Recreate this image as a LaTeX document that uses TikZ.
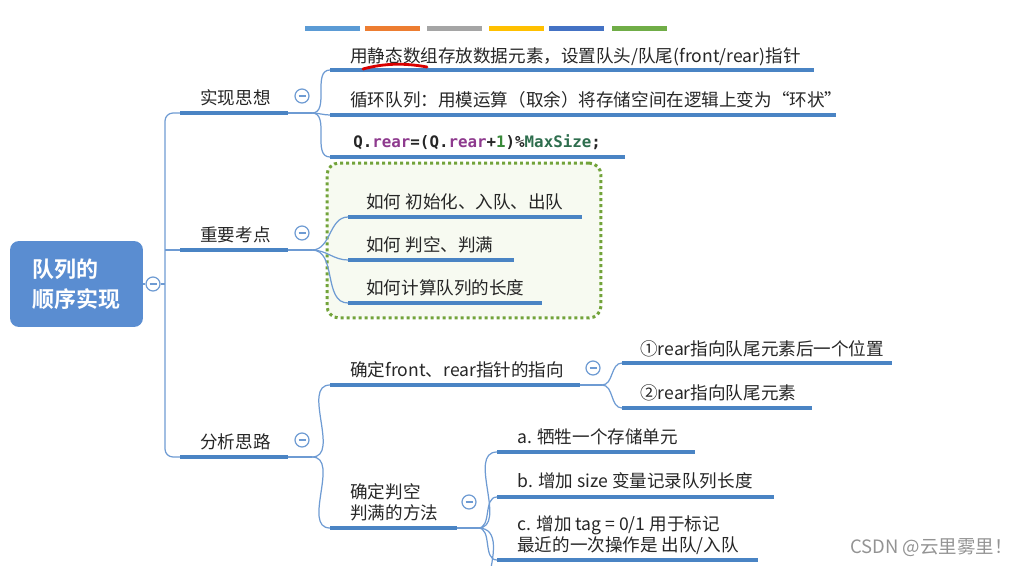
\documentclass[tikz,border=0pt]{standalone}
\usepackage{fontspec}
\setmainfont{Noto Sans CJK SC}[BoldFont={* Bold}]
\newfontfamily\codefont{DejaVu Sans Mono}
\usetikzlibrary{positioning}
\definecolor{ulblue}{HTML}{4A84C4}
\definecolor{lnblue}{HTML}{6E9BD3}
\definecolor{rootblue}{HTML}{5A8DD1}
\definecolor{boxgreen}{HTML}{72A33A}
\definecolor{boxfill}{HTML}{F7FAF1}
\definecolor{txt}{HTML}{262626}
\definecolor{codepurple}{HTML}{8E3A8E}
\definecolor{codegreen}{HTML}{2E6E4E}
\definecolor{codenum}{HTML}{3A8A3A}
\definecolor{barA}{HTML}{5B9BD5}
\definecolor{barB}{HTML}{ED7D31}
\definecolor{barC}{HTML}{A5A5A5}
\definecolor{barD}{HTML}{FFC000}
\definecolor{barE}{HTML}{4472C4}
\definecolor{barF}{HTML}{70AD47}
\tikzset{
  uline/.style={ulblue, line width=0.08cm},
  link/.style={lnblue, line width=0.7pt},
  lbl/.style={anchor=base west, inner sep=0pt, text=txt, font=\fontsize{10}{11.5}\selectfont, align=left},
  fold/.style={circle, draw=lnblue, line width=0.7pt, fill=white, minimum size=0.28cm, inner sep=0pt,
    path picture={\draw[lnblue, line width=0.8pt] ([xshift=-0.07cm]path picture bounding box.center) -- ([xshift=0.07cm]path picture bounding box.center);}},
  rootbox/.style={fill=rootblue, rounded corners=0.18cm, minimum width=2.66cm, minimum height=1.72cm,
    text=white, align=left, font=\fontsize{12.5}{17}\selectfont\bfseries},
  kbox/.style={draw=boxgreen, fill=boxfill, line width=0.06cm, dash pattern=on 0.06cm off 0.06cm,
    rounded corners=0.24cm, minimum width=5.48cm, minimum height=3.1cm}
}
\begin{document}
\begin{tikzpicture}[x=0.02cm,y=-0.02cm]
\useasboundingbox (0,0) rectangle (1027,565);
\foreach \xa/\cl in {305/barA,365/barB,427/barC,489/barD,549/barE,612/barF}
  \draw[line width=0.1cm, \cl] (\xa,28) -- ++(55,0);

\node[rootbox] (root) at (76.5,284) {队列的\\顺序实现};
\node[fold] (f0) at (153,284) {};
\coordinate (trk) at (165,284);
\draw[link] (root) -- (f0) -- (trk);

\coordinate (b1s) at (180,113); \coordinate (b1e) at (288,113); \coordinate (j1) at (312,113);
\coordinate (b2s) at (180,250); \coordinate (b2e) at (288,250); \coordinate (j2) at (312,250);
\coordinate (b3s) at (180,457); \coordinate (b3e) at (288,457); \coordinate (j3) at (312,457);
\draw[link, rounded corners=0.16cm] (b1s) -| (trk) |- (b3s);
\draw[link] (trk |- b2s) -- (b2s);
\draw[uline] (b1s) -- (b1e); \draw[link] (b1e) -- (j1);
\draw[uline] (b2s) -- (b2e); \draw[link] (b2e) -- (j2);
\draw[uline] (b3s) -- (b3e); \draw[link] (b3e) -- (j3);
\node[lbl] (t1) at (200,104) {实现思想};
\node[lbl] (t2) at (200,241) {重要考点};
\node[lbl] (t3) at (200,448) {分析思路};
\node[fold] (f1) at (302,96) {};
\node[fold] (f2) at (302,233) {};
\node[fold] (f3) at (302,440) {};

\coordinate (c11s) at (330,70);  \coordinate (c11e) at (814,70);
\coordinate (c12s) at (330,115); \coordinate (c12e) at (836,115);
\coordinate (c13s) at (330,157); \coordinate (c13e) at (625,157);
\foreach \n in {c11,c12,c13} {
  \draw[link] (j1) to[out=0,in=180] (\n s);
  \draw[uline] (\n s) -- (\n e);
}
\node[lbl] (t11) at (350,62) {用静态数组存放数据元素，设置队头/队尾(front/rear)指针};
\draw[red!85!black, line width=1.6pt, line cap=round] (363,69) .. controls (385,63) and (405,63) .. (427,67);
\node[lbl] (t12) at (350,106) {循环队列：用模运算（取余）将存储空间在逻辑上变为“环状”};
\node[lbl, font={\codefont\fontsize{9}{11}\selectfont\bfseries}] (t13) at (353,147)
  {Q.{\color{codepurple}rear}=(Q.{\color{codepurple}rear}+{\color{codenum}1})\%{\color{codegreen}MaxSize};};

\node[kbox] (kb) at (464,240.5) {};
\coordinate (c21s) at (348,217); \coordinate (c21e) at (582,217);
\coordinate (c22s) at (348,260); \coordinate (c22e) at (514,260);
\coordinate (c23s) at (348,303); \coordinate (c23e) at (542,303);
\foreach \n in {c21,c22,c23} {
  \draw[link] (j2) to[out=0,in=180] (\n s);
  \draw[uline] (\n s) -- (\n e);
}
\node[lbl] (t21) at (366,208) {如何 初始化、入队、出队};
\node[lbl] (t22) at (366,251) {如何 判空、判满};
\node[lbl] (t23) at (366,294) {如何计算队列的长度};

\coordinate (c31s) at (330,385); \coordinate (c31e) at (580,385); \coordinate (j31) at (602,385);
\coordinate (c32s) at (330,528); \coordinate (c32e) at (457,528); \coordinate (j32) at (478,528);
\foreach \n in {c31,c32} {
  \draw[link] (j3) to[out=0,in=180] (\n s);
  \draw[uline] (\n s) -- (\n e);
}
\draw[link] (c31e) -- (j31);
\draw[link] (c32e) -- (j32);
\node[lbl] (t31) at (350,376) {确定front、rear指针的指向};
\node[lbl] (t32) at (350,519) {确定判空\\判满的方法};
\node[fold] (f31) at (593,368) {};
\node[fold] (f32) at (469,502) {};

\coordinate (c311s) at (622,363); \coordinate (c311e) at (892,363);
\coordinate (c312s) at (622,408); \coordinate (c312e) at (812,408);
\foreach \n in {c311,c312} {
  \draw[link] (j31) to[out=0,in=180] (\n s);
  \draw[uline] (\n s) -- (\n e);
}
\node[lbl] (t311) at (640,355) {①rear指向队尾元素后一个位置};
\node[lbl] (t312) at (640,399) {②rear指向队尾元素};

\coordinate (c321s) at (497,452); \coordinate (c321e) at (695,452);
\coordinate (c322s) at (497,497); \coordinate (c322e) at (774,497);
\coordinate (c323s) at (497,560); \coordinate (c323e) at (758,560);
\coordinate (c324s) at (497,640);
\foreach \n in {c321,c322,c323} {
  \draw[link] (j32) to[out=0,in=180] (\n s);
  \draw[uline] (\n s) -- (\n e);
}
\draw[link] (j32) to[out=0,in=180] (c324s);
\node[lbl] (t321) at (517,443) {a. 牺牲一个存储单元};
\node[lbl] (t322) at (517,487) {b. 增加 size 变量记录队列长度};
\node[lbl] (t323) at (517,551) {c. 增加 tag = 0/1 用于标记\\最近的一次操作是 出队/入队};

\node[anchor=base east, inner sep=0pt, text=gray!85, font=\fontsize{10.5}{12}\selectfont] (mark) at (1013,553) {CSDN @云里雾里！};
\end{tikzpicture}
\end{document}
